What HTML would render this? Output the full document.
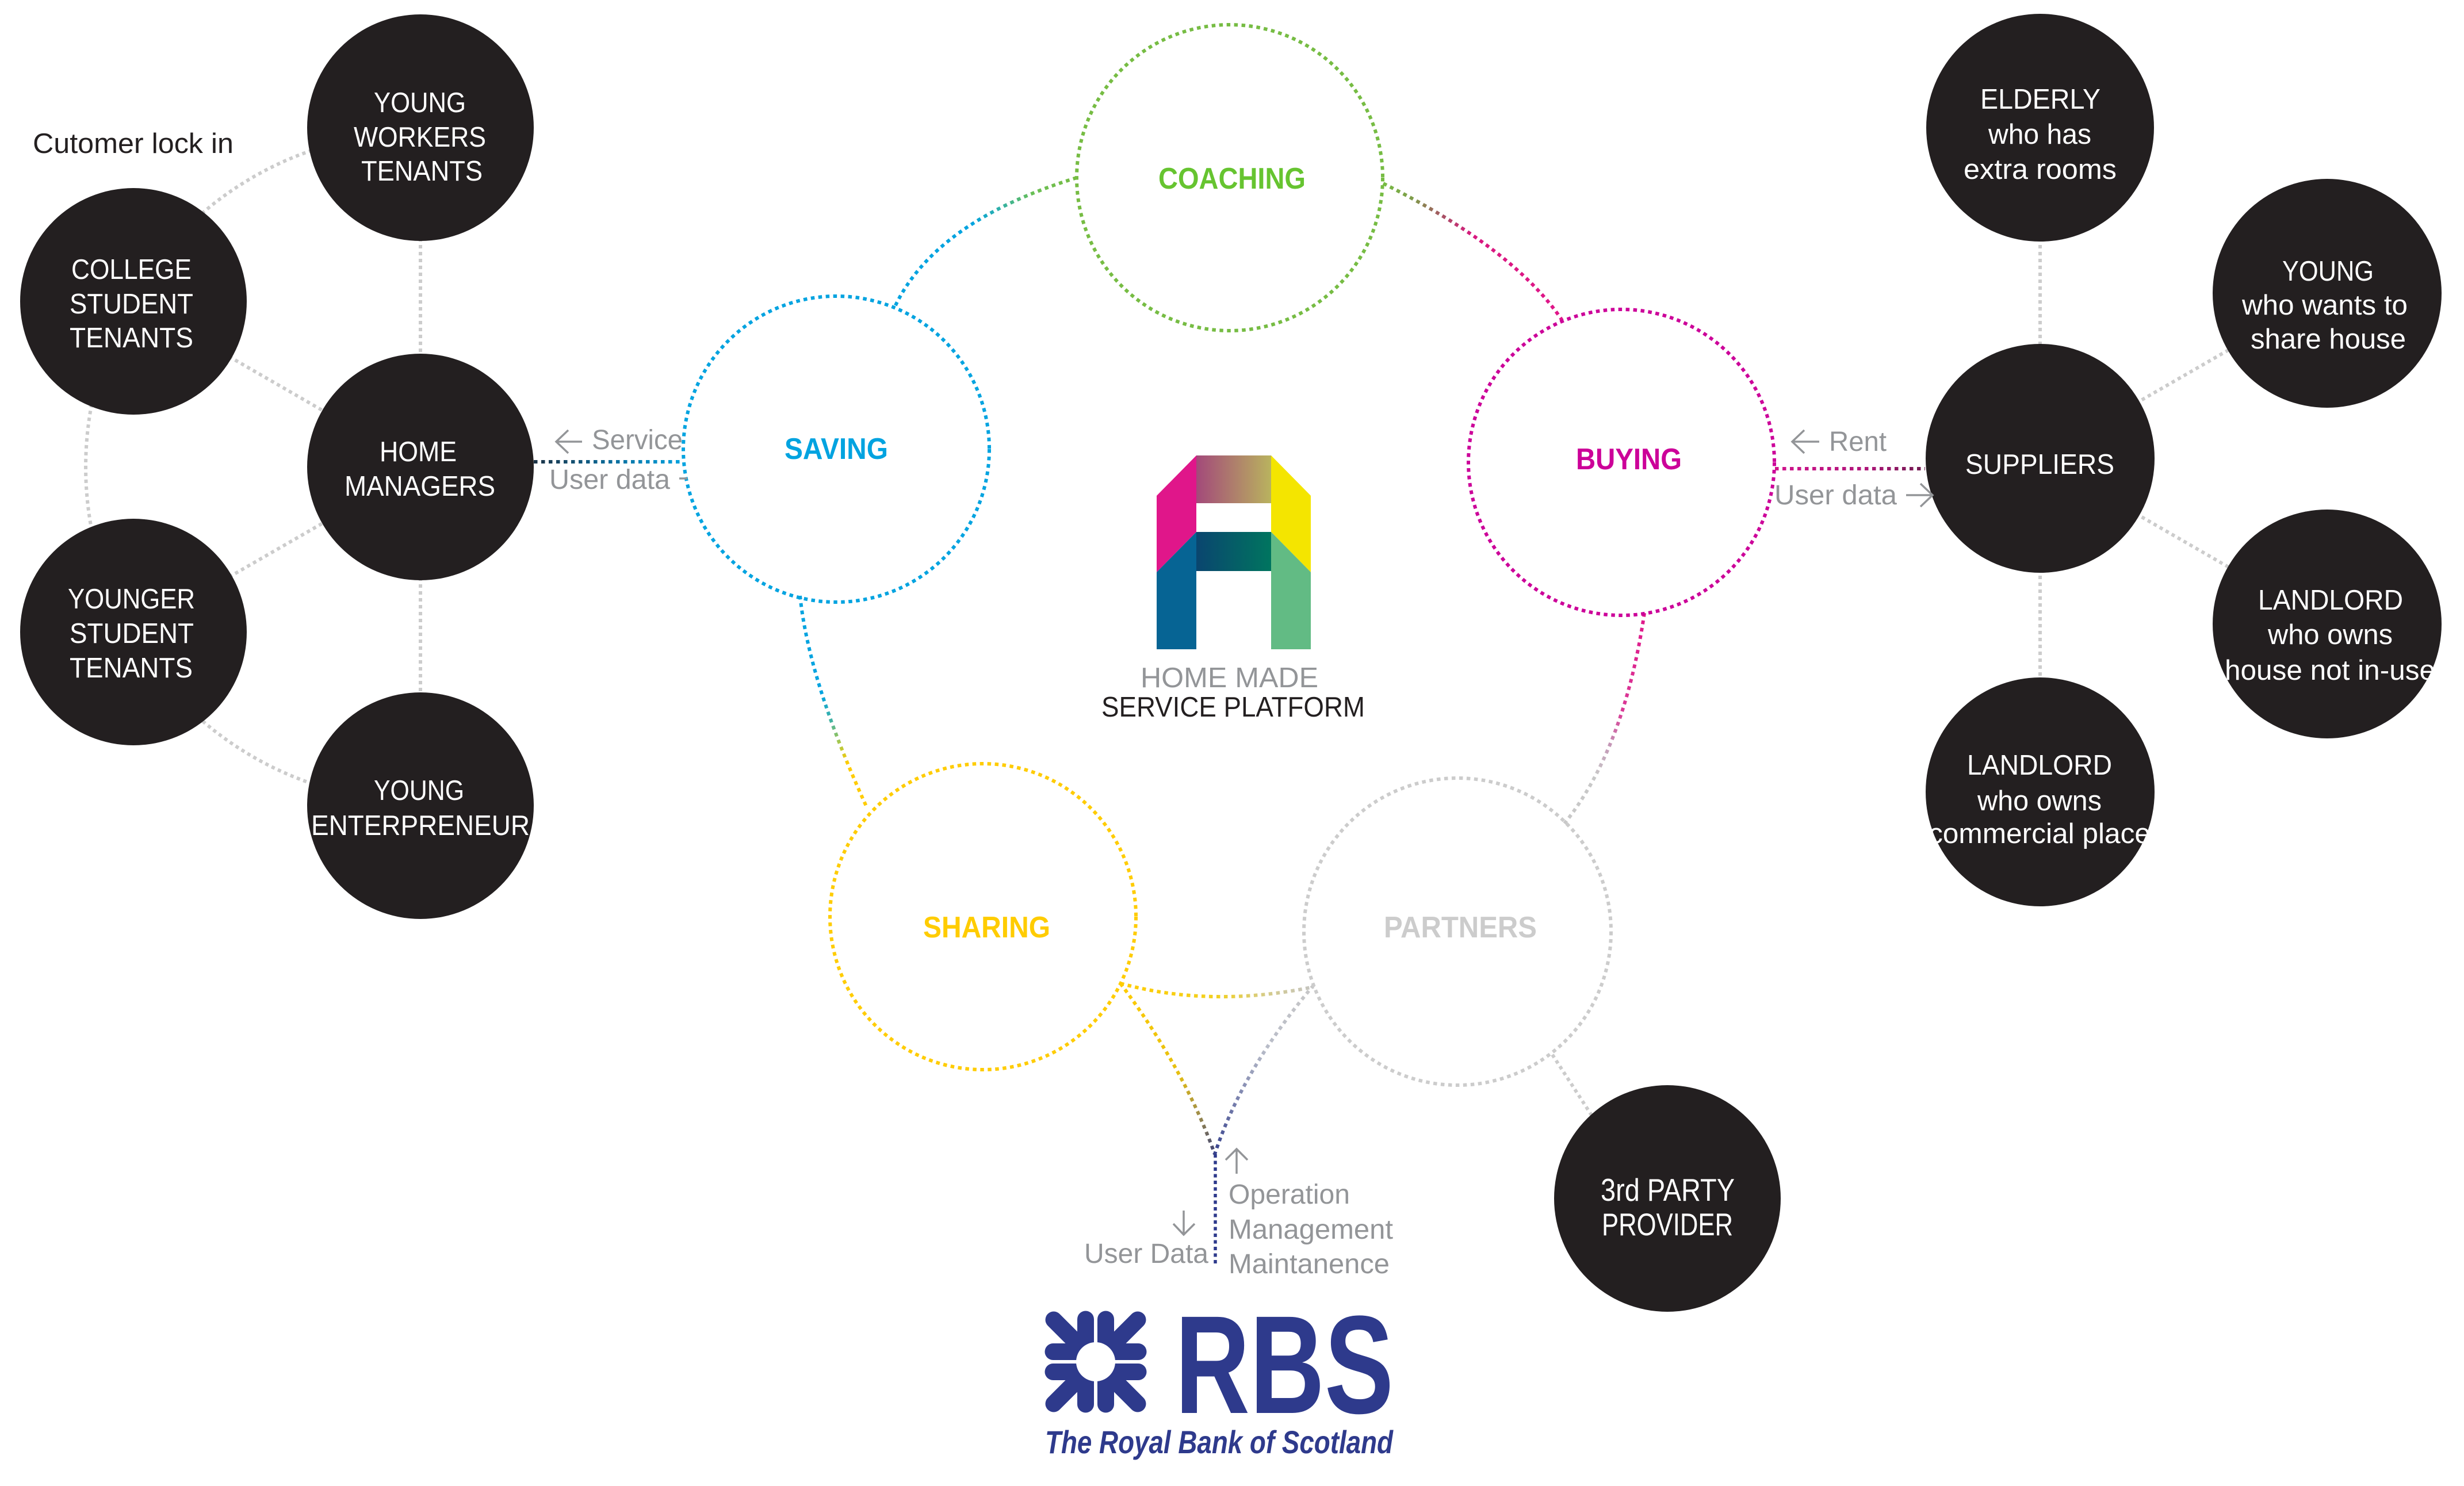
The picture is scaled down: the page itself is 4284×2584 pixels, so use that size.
<!DOCTYPE html>
<html>
<head>
<meta charset="utf-8">
<style>
html,body{margin:0;padding:0;background:#fff;}
svg{display:block;}
text{font-family:"Liberation Sans",sans-serif;}
</style>
</head>
<body>
<svg xmlns="http://www.w3.org/2000/svg" width="4284" height="2584" viewBox="0 0 4284 2584">
<defs>
  <linearGradient id="gCS" gradientUnits="userSpaceOnUse" x1="1872" y1="309" x2="1556" y2="533">
    <stop offset="0" stop-color="#76bc43"/><stop offset="0.2" stop-color="#6abf55"/>
    <stop offset="0.36" stop-color="#2fb0a8"/><stop offset="0.5" stop-color="#00a3e0"/><stop offset="1" stop-color="#00a3e0"/>
  </linearGradient>
  <linearGradient id="gCB" gradientUnits="userSpaceOnUse" x1="2405" y1="319" x2="2716" y2="557">
    <stop offset="0" stop-color="#76bc43"/><stop offset="0.15" stop-color="#7f9a4a"/>
    <stop offset="0.3" stop-color="#a85064"/><stop offset="0.45" stop-color="#d8187f"/><stop offset="1" stop-color="#e0168a"/>
  </linearGradient>
  <linearGradient id="gBP" gradientUnits="userSpaceOnUse" x1="2859" y1="1066" x2="2720" y2="1432">
    <stop offset="0" stop-color="#e0168a"/><stop offset="0.45" stop-color="#d93a96"/>
    <stop offset="0.6" stop-color="#c496b6"/><stop offset="0.75" stop-color="#c8c8c8"/><stop offset="1" stop-color="#c8c8c8"/>
  </linearGradient>
  <linearGradient id="gSS" gradientUnits="userSpaceOnUse" x1="1391" y1="1036" x2="1508" y2="1406">
    <stop offset="0" stop-color="#00a3e0"/><stop offset="0.45" stop-color="#00a3e0"/>
    <stop offset="0.58" stop-color="#46b3a0"/><stop offset="0.68" stop-color="#a8c84c"/>
    <stop offset="0.78" stop-color="#ffcc00"/><stop offset="1" stop-color="#ffcc00"/>
  </linearGradient>
  <linearGradient id="gSP" gradientUnits="userSpaceOnUse" x1="1948" y1="1710" x2="2284" y2="1716">
    <stop offset="0" stop-color="#ffcc00"/><stop offset="0.5" stop-color="#f2d020"/>
    <stop offset="0.75" stop-color="#d6cc88"/><stop offset="1" stop-color="#c4c4c4"/>
  </linearGradient>
  <linearGradient id="gSJ" gradientUnits="userSpaceOnUse" x1="1948" y1="1710" x2="2112" y2="2007">
    <stop offset="0" stop-color="#ffcc00"/><stop offset="0.55" stop-color="#e6bf10"/>
    <stop offset="0.78" stop-color="#a08e48"/><stop offset="1" stop-color="#3a3f78"/>
  </linearGradient>
  <linearGradient id="gPJ" gradientUnits="userSpaceOnUse" x1="2284" y1="1713" x2="2112" y2="2007">
    <stop offset="0" stop-color="#c8c8c8"/><stop offset="0.4" stop-color="#b8bcc8"/>
    <stop offset="0.7" stop-color="#7a82ae"/><stop offset="1" stop-color="#36418c"/>
  </linearGradient>
  <linearGradient id="gHS" gradientUnits="userSpaceOnUse" x1="928" y1="803" x2="1187" y2="803">
    <stop offset="0" stop-color="#1d3245"/><stop offset="0.5" stop-color="#0b6a98"/><stop offset="1" stop-color="#00a3e0"/>
  </linearGradient>
  <linearGradient id="gRS" gradientUnits="userSpaceOnUse" x1="3086" y1="815" x2="3347" y2="815">
    <stop offset="0" stop-color="#d0148c"/><stop offset="0.6" stop-color="#b0167a"/><stop offset="1" stop-color="#6e1a4e"/>
  </linearGradient>
  <linearGradient id="gTop" gradientUnits="userSpaceOnUse" x1="2080" y1="0" x2="2210" y2="0">
    <stop offset="0" stop-color="#a3497a"/><stop offset="1" stop-color="#b9b35e"/>
  </linearGradient>
  <linearGradient id="gMid" gradientUnits="userSpaceOnUse" x1="2080" y1="0" x2="2210" y2="0">
    <stop offset="0" stop-color="#0a456f"/><stop offset="1" stop-color="#00755f"/>
  </linearGradient>
</defs>

<!-- LEFT CLUSTER CONNECTORS -->
<g fill="none" stroke="#cccccc" stroke-width="6" stroke-dasharray="6 6">
  <path d="M731 230 A582 582 0 0 0 227 521 A582 582 0 0 0 227 1103 A582 582 0 0 0 731 1394"/>
  <path d="M731 222 L731 812"/>
  <path d="M232 524 L731 812"/>
  <path d="M232 1099 L731 812"/>
  <path d="M731 812 L731 1401"/>
  <!-- right cluster -->
  <path d="M3547 222 L3547 797"/>
  <path d="M3547 797 L4046 510"/>
  <path d="M3547 797 L4046 1085"/>
  <path d="M3547 797 L3547 1377"/>
  <!-- partners to 3rd party -->
  <path d="M2699 1834 L2800 1990"/>
</g>

<!-- SERVICE CONNECTORS -->
<g fill="none" stroke-width="6" stroke-dasharray="6.5 6.5">
  <path d="M1872 309 Q1626 385 1556 533" stroke="url(#gCS)"/>
  <path d="M2405 319 Q2633 433 2716 557" stroke="url(#gCB)"/>
  <path d="M2859 1066 Q2824 1302 2720 1432" stroke="url(#gBP)"/>
  <path d="M1391 1036 Q1406 1184 1508 1406" stroke="url(#gSS)"/>
  <path d="M1948 1710 Q2106 1753 2284 1716" stroke="url(#gSP)"/>
  <path d="M1948 1710 Q2060 1860 2112 2007" stroke="url(#gSJ)"/>
  <path d="M2284 1713 Q2160 1860 2112 2007" stroke="url(#gPJ)"/>
  <path d="M928 803 L1187 803" stroke="url(#gHS)"/>
  <path d="M3086 815 L3347 815" stroke="url(#gRS)"/>
</g>
<path d="M2113 2007 L2113 2198" fill="none" stroke="#2e3a8c" stroke-width="5.5" stroke-dasharray="6 5.5"/>

<!-- BLACK NODES -->
<g fill="#231f20">
  <circle cx="731" cy="222" r="197"/>
  <circle cx="232" cy="524" r="197"/>
  <circle cx="731" cy="812" r="197"/>
  <circle cx="232" cy="1099" r="197"/>
  <circle cx="731" cy="1401" r="197"/>
  <circle cx="3547" cy="222" r="198"/>
  <circle cx="4046" cy="510" r="199"/>
  <circle cx="3547" cy="797" r="199"/>
  <circle cx="4046" cy="1085" r="199"/>
  <circle cx="3547" cy="1377" r="199"/>
  <circle cx="2899" cy="2084" r="197"/>
</g>

<!-- SERVICE CIRCLES -->
<g fill="none" stroke-width="6" stroke-dasharray="6.5 6.5">
  <circle cx="2138" cy="309" r="266" stroke="#76bc43"/>
  <circle cx="1454" cy="781" r="266" stroke="#00a3e0"/>
  <circle cx="2819" cy="804" r="266" stroke="#cc0099"/>
  <circle cx="1709" cy="1594" r="266" stroke="#ffcc00"/>
  <circle cx="2534" cy="1620" r="267" stroke="#cccccc"/>
</g>

<!-- NODE TEXT -->
<g fill="#ffffff" font-size="49" lengthAdjust="spacingAndGlyphs">
  <text x="650" y="195" textLength="160" lengthAdjust="spacingAndGlyphs">YOUNG</text>
  <text x="615" y="255" textLength="230" lengthAdjust="spacingAndGlyphs">WORKERS</text>
  <text x="628" y="314" textLength="211" lengthAdjust="spacingAndGlyphs">TENANTS</text>

  <text x="124" y="485" textLength="209" lengthAdjust="spacingAndGlyphs">COLLEGE</text>
  <text x="121" y="545" textLength="215" lengthAdjust="spacingAndGlyphs">STUDENT</text>
  <text x="121" y="604" textLength="215" lengthAdjust="spacingAndGlyphs">TENANTS</text>

  <text x="660" y="802" textLength="134" lengthAdjust="spacingAndGlyphs">HOME</text>
  <text x="599" y="862" textLength="262" lengthAdjust="spacingAndGlyphs">MANAGERS</text>

  <text x="118" y="1058" textLength="221" lengthAdjust="spacingAndGlyphs">YOUNGER</text>
  <text x="121" y="1118" textLength="216" lengthAdjust="spacingAndGlyphs">STUDENT</text>
  <text x="121" y="1178" textLength="214" lengthAdjust="spacingAndGlyphs">TENANTS</text>

  <text x="650" y="1391" textLength="157" lengthAdjust="spacingAndGlyphs">YOUNG</text>
  <text x="541" y="1452" textLength="380" lengthAdjust="spacingAndGlyphs">ENTERPRENEUR</text>

  <text x="3443" y="189" textLength="209" lengthAdjust="spacingAndGlyphs">ELDERLY</text>
  <text x="3457" y="250" textLength="179" lengthAdjust="spacingAndGlyphs">who has</text>
  <text x="3414" y="311" textLength="266" lengthAdjust="spacingAndGlyphs">extra rooms</text>

  <text x="3968" y="488" textLength="159" lengthAdjust="spacingAndGlyphs">YOUNG</text>
  <text x="3898" y="547" textLength="288" lengthAdjust="spacingAndGlyphs">who wants to</text>
  <text x="3913" y="606" textLength="270" lengthAdjust="spacingAndGlyphs">share house</text>

  <text x="3417" y="824" textLength="259" lengthAdjust="spacingAndGlyphs">SUPPLIERS</text>

  <text x="3926" y="1060" textLength="252" lengthAdjust="spacingAndGlyphs">LANDLORD</text>
  <text x="3943" y="1120" textLength="217" lengthAdjust="spacingAndGlyphs">who owns</text>
  <text x="3868" y="1182" textLength="366" lengthAdjust="spacingAndGlyphs">house not in-use</text>

  <text x="3420" y="1347" textLength="252" lengthAdjust="spacingAndGlyphs">LANDLORD</text>
  <text x="3438" y="1409" textLength="216" lengthAdjust="spacingAndGlyphs">who owns</text>
  <text x="3353" y="1466" textLength="386" lengthAdjust="spacingAndGlyphs">commercial place</text>

  <text x="2783" y="2088" font-size="55" textLength="233" lengthAdjust="spacingAndGlyphs">3rd PARTY</text>
  <text x="2785" y="2148" font-size="55" textLength="228" lengthAdjust="spacingAndGlyphs">PROVIDER</text>
</g>

<!-- SERVICE LABELS -->
<g font-size="52" font-weight="bold">
  <text x="2014" y="328" fill="#66c430" textLength="256" lengthAdjust="spacingAndGlyphs">COACHING</text>
  <text x="1364" y="798" fill="#00a3e0" textLength="180" lengthAdjust="spacingAndGlyphs">SAVING</text>
  <text x="2740" y="816" fill="#cc0099" textLength="184" lengthAdjust="spacingAndGlyphs">BUYING</text>
  <text x="1605" y="1630" fill="#ffcc00" textLength="221" lengthAdjust="spacingAndGlyphs">SHARING</text>
  <text x="2406" y="1630" fill="#cccccc" textLength="266" lengthAdjust="spacingAndGlyphs">PARTNERS</text>
</g>

<!-- GRAY LABELS -->
<g fill="#939598" font-size="48">
  <text x="1029" y="781" textLength="158" lengthAdjust="spacingAndGlyphs">Service</text>
  <text x="955" y="850" textLength="210" lengthAdjust="spacingAndGlyphs">User data</text>
  <text x="3180" y="784" textLength="100" lengthAdjust="spacingAndGlyphs">Rent</text>
  <text x="3085" y="877" textLength="213" lengthAdjust="spacingAndGlyphs">User data</text>
  <text x="2136" y="2093" textLength="211" lengthAdjust="spacingAndGlyphs">Operation</text>
  <text x="2136" y="2154" textLength="286" lengthAdjust="spacingAndGlyphs">Management</text>
  <text x="2136" y="2214" textLength="280" lengthAdjust="spacingAndGlyphs">Maintanence</text>
  <text x="1885" y="2196" textLength="216" lengthAdjust="spacingAndGlyphs">User Data</text>
</g>

<!-- ARROWS -->
<g fill="none" stroke="#939598" stroke-width="3.5" stroke-linecap="butt" stroke-linejoin="miter">
  <path d="M1012 768 L967 768 M988 748 L967 768 L988 788"/>
  <path d="M1181 832 L1195 832"/>
  <path d="M3163 768 L3116 768 M3137 748 L3116 768 L3137 788"/>
  <path d="M3314 861 L3360 861 M3339 841 L3360 861 L3339 881"/>
  <path d="M2150 2041 L2150 1998 M2131 2017 L2150 1998 L2169 2017"/>
  <path d="M2058 2105 L2058 2147 M2040 2128 L2058 2147 L2077 2128"/>
</g>

<!-- CUSTOMER LOCK IN -->
<text x="57" y="266" font-size="49" fill="#231f20" textLength="349" lengthAdjust="spacingAndGlyphs">Cutomer lock in</text>

<!-- HOME MADE LOGO -->
<g>
  <polygon points="2011,862 2080,792 2080,925 2011,995" fill="#e0168a"/>
  <polygon points="2011,995 2080,925 2080,1129 2011,1129" fill="#066494"/>
  <rect x="2080" y="792" width="130" height="83" fill="url(#gTop)"/>
  <polygon points="2210,792 2279,862 2279,995 2210,925" fill="#f4e500"/>
  <polygon points="2210,925 2279,995 2279,1129 2210,1129" fill="#62bb84"/>
  <rect x="2080" y="925" width="130" height="68" fill="url(#gMid)"/>
</g>
<text x="1983" y="1195" font-size="49" fill="#939598" textLength="309" lengthAdjust="spacingAndGlyphs">HOME MADE</text>
<text x="1915" y="1246" font-size="49" fill="#231f20" textLength="458" lengthAdjust="spacingAndGlyphs">SERVICE PLATFORM</text>

<!-- RBS LOGO -->
<g transform="translate(1905,2368)" stroke="#2e3a8c" stroke-width="29" stroke-linecap="round" fill="none">
  <g>
    <line x1="-17.5" y1="-74" x2="-17.5" y2="-30"/>
    <line x1="-74" y1="-17.5" x2="-30" y2="-17.5"/>
    <line x1="-73" y1="-73" x2="-32" y2="-32"/>
  </g>
  <g transform="scale(-1,1)">
    <line x1="-17.5" y1="-74" x2="-17.5" y2="-30"/>
    <line x1="-74" y1="-17.5" x2="-30" y2="-17.5"/>
    <line x1="-73" y1="-73" x2="-32" y2="-32"/>
  </g>
  <g transform="scale(1,-1)">
    <line x1="-17.5" y1="-74" x2="-17.5" y2="-30"/>
    <line x1="-74" y1="-17.5" x2="-30" y2="-17.5"/>
    <line x1="-73" y1="-73" x2="-32" y2="-32"/>
  </g>
  <g transform="scale(-1,-1)">
    <line x1="-17.5" y1="-74" x2="-17.5" y2="-30"/>
    <line x1="-74" y1="-17.5" x2="-30" y2="-17.5"/>
    <line x1="-73" y1="-73" x2="-32" y2="-32"/>
  </g>
  <circle cx="0" cy="0" r="34" fill="#ffffff" stroke="none"/>
  <rect x="-3" y="-90" width="6" height="180" fill="#ffffff" stroke="none"/>
  <rect x="-90" y="-3" width="180" height="6" fill="#ffffff" stroke="none"/>
</g>
<text x="2043" y="2457" font-size="243" font-weight="bold" fill="#2e3a8c" textLength="380" lengthAdjust="spacingAndGlyphs">RBS</text>
<text x="1817" y="2527" font-size="56" font-weight="bold" font-style="italic" fill="#2e3a8c" textLength="605" lengthAdjust="spacingAndGlyphs">The Royal Bank of Scotland</text>
</svg>
</body>
</html>
